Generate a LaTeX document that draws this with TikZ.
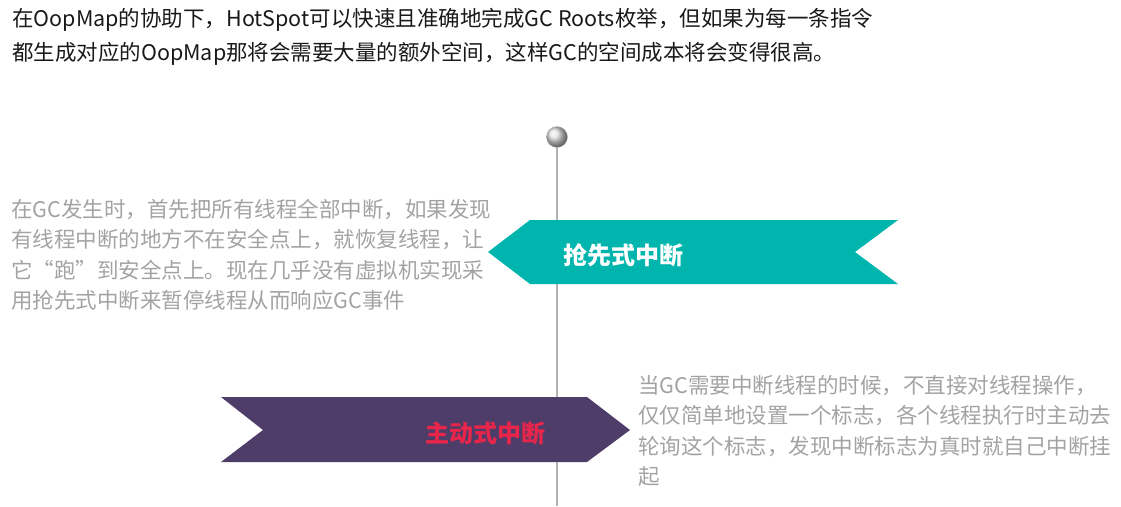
\documentclass[tikz,border=0pt]{standalone}
\usepackage{fontspec}
\setmainfont{Noto Sans CJK SC}
\usetikzlibrary{positioning}
\usepackage{xcolor}
\definecolor{bandteal}{HTML}{00B5AD}
\definecolor{bandplum}{HTML}{4E3D68}
\definecolor{labelred}{HTML}{E8254A}
\definecolor{notegray}{HTML}{A3A3A3}

\begin{document}
\begin{tikzpicture}[
  x=1pt,y=-1pt,
  intro/.style={anchor=west,inner sep=0pt,align=left,text=black!90,
                font=\fontsize{21.5}{34}\selectfont},
  note/.style={anchor=west,inner sep=0pt,align=left,text=notegray,
               font=\fontsize{21.5}{30.5}\selectfont},
  bandtext/.style={anchor=west,inner sep=0pt,font=\fontsize{24}{28}\selectfont\bfseries},
  axis/.style={draw=black!30,line width=1.3pt}
]
\useasboundingbox (0,0) rectangle (1121,506);
\node[intro] (head) at (12,37) {在OopMap的协助下，HotSpot可以快速且准确地完成GC Roots枚举，但如果为每一条指令\\都生成对应的OopMap那将会需要大量的额外空间，这样GC的空间成本将会变得很高。};
% timeline axis
\coordinate (axisend) at (557,506);
\node[circle,minimum size=21pt,inner sep=0pt,draw=black!30,ball color=black!12] (knob) at (557,137) {};
\draw[axis] (knob.south) -- (axisend);
% preemptive band
\fill[bandteal] (488,252) -- (530,220) -- (898,220) -- (855,252) -- (898,284) -- (530,284) -- cycle;
\node[bandtext,text=white] (preempt) at (563,255) {抢先式中断};
\node[note] (preemptnote) at (11,255) {在GC发生时，首先把所有线程全部中断，如果发现\\有线程中断的地方不在安全点上，就恢复线程，让\\它“跑”到安全点上。现在几乎没有虚拟机实现采\\用抢先式中断来暂停线程从而响应GC事件};
% voluntary band
\fill[bandplum] (221,397) -- (587,397) -- (630,430) -- (587,462) -- (221,462) -- (263,430) -- cycle;
\node[bandtext,text=labelred] (voluntary) at (425,433) {主动式中断};
\node[note] (voluntarynote) at (638,431) {当GC需要中断线程的时候，不直接对线程操作，\\仅仅简单地设置一个标志，各个线程执行时主动去\\轮询这个标志，发现中断标志为真时就自己中断挂\\起};
\end{tikzpicture}
\end{document}
